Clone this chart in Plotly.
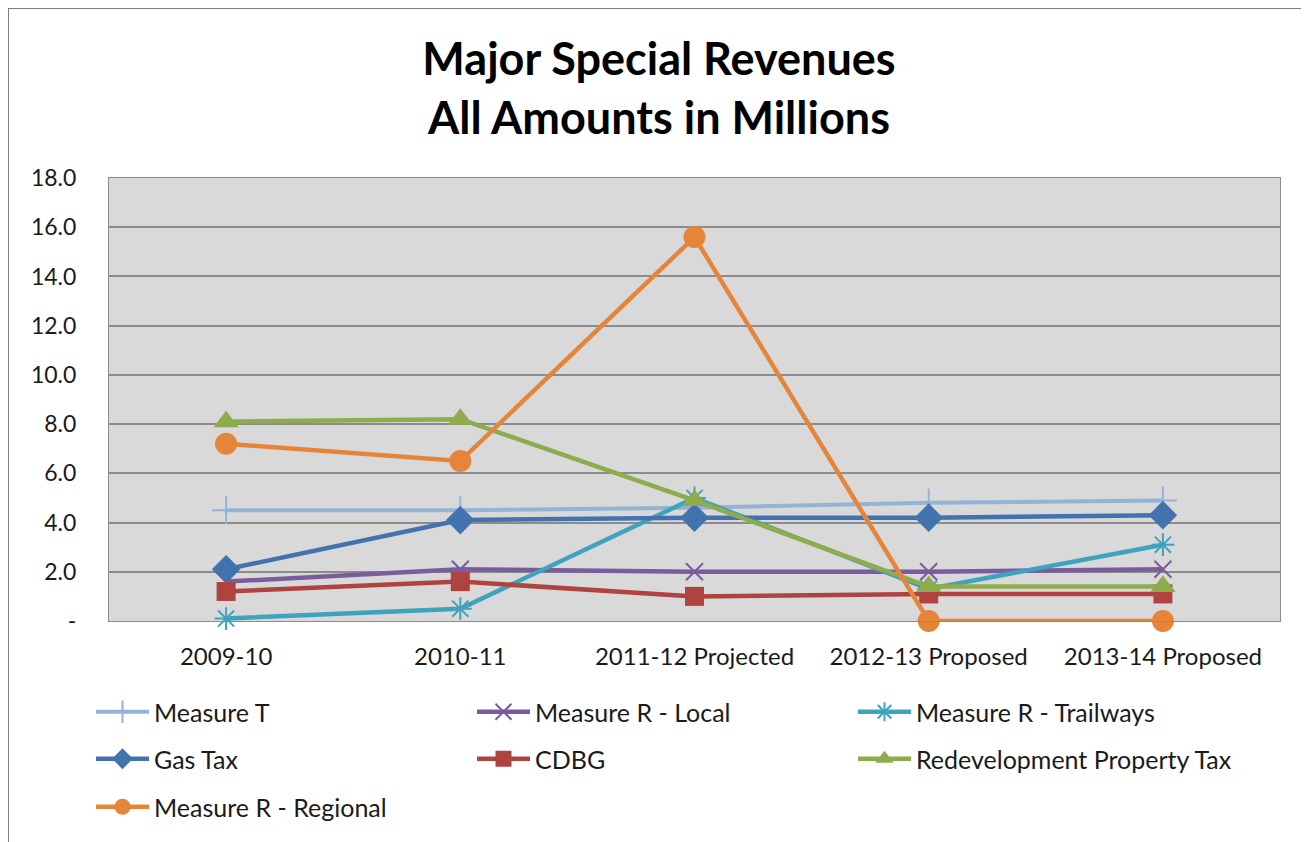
import plotly.graph_objects as go

categories = ["2009-10", "2010-11", "2011-12 Projected", "2012-13 Proposed", "2013-14 Proposed"]

measure_t = [4.5, 4.5, 4.6, 4.8, 4.9]
measure_r_local = [1.6, 2.1, 2.0, 2.0, 2.1]
measure_r_trailways = [0.1, 0.5, 5.0, 1.3, 3.1]
gas_tax = [2.1, 4.1, 4.2, 4.2, 4.3]
cdbg = [1.2, 1.6, 1.0, 1.1, 1.1]
redevelopment = [8.1, 8.2, 4.9, 1.4, 1.4]
measure_r_regional = [7.2, 6.5, 15.6, 0.0, 0.0]

y_tickvals = [0, 2, 4, 6, 8, 10, 12, 14, 16, 18]
y_ticktext = ["-", "2.0", "4.0", "6.0", "8.0", "10.0", "12.0", "14.0", "16.0", "18.0"]

W, H = 1309, 842
OFF = 8  # page body margin of the html output
# target screen positions of the plot area
SL, SR, ST, SB = 109, 1280, 178, 621
ML, MT = SL - OFF, ST - OFF
MR, MB = W - (SR - OFF), H - (SB - OFF)
PW, PH = W - ML - MR, H - MT - MB


def px_x(px):
    return (px - SL) / PW


def px_y(py):
    return (SB - py) / PH


FONT = "Lato"

series = [
    dict(name="Measure T", y=measure_t, color="#95B3D7", symbol="cross-thin-open", size=20, lw=4, mlw=2, legend="legend"),
    dict(name="Measure R - Local", y=measure_r_local, color="#7A5C9C", symbol="x-thin-open", size=17, lw=4.5, mlw=2, legend="legend"),
    dict(name="Measure R - Trailways", y=measure_r_trailways, color="#3FA3BE", symbol="asterisk-open", size=19, lw=4.5, mlw=2, legend="legend"),
    dict(name="Gas Tax", y=gas_tax, color="#4373AE", symbol="diamond", size=22, lw=4.5, mlw=0, legend="legend2"),
    dict(name="CDBG", y=cdbg, color="#AE4340", symbol="square", size=19, lw=4.5, mlw=0, legend="legend2"),
    dict(name="Redevelopment Property Tax", y=redevelopment, color="#8EAC4C", symbol="triangle-up", size=22, lw=4.5, mlw=0, legend="legend2"),
    dict(name="Measure R - Regional", y=measure_r_regional, color="#E5853A", symbol="circle", size=22, lw=4.5, mlw=0, legend="legend3"),
]

fig = go.Figure()
for s in series:
    marker = dict(symbol=s["symbol"], size=s["size"], color=s["color"])
    if s["mlw"]:
        marker["line"] = dict(color=s["color"], width=s["mlw"])
    else:
        marker["line"] = dict(width=0)
    fig.add_trace(go.Scatter(
        x=categories, y=s["y"], name=s["name"], mode="lines+markers",
        line=dict(color=s["color"], width=s["lw"]),
        marker=marker, cliponaxis=False, legend=s["legend"],
    ))

legend_common = dict(
    orientation="h", xanchor="left", yanchor="middle",
    font=dict(family=FONT, size=25, color="#1a1a1a"),
    itemwidth=53, entrywidth=313, entrywidthmode="pixels",
    bgcolor="rgba(0,0,0,0)", borderwidth=0, itemclick=False,
)

fig.update_layout(
    width=W, height=H,
    margin=dict(l=ML, r=MR, t=MT, b=MB, autoexpand=False),
    paper_bgcolor="white",
    plot_bgcolor="#D9D9D9",
    font=dict(family=FONT, size=24, color="#1a1a1a"),
    title=dict(
        text="<b>Major Special Revenues<br>All Amounts in Millions</b>",
        x=(659 - OFF) / W, xref="container", xanchor="center",
        y=1 - 67 / H, yref="container", yanchor="middle",
        font=dict(family=FONT, size=45, color="#000000"),
    ),
    xaxis=dict(
        type="category", range=[-0.5, 4.5], showgrid=False, ticks="", showline=True,
        linecolor="#8C8C8C", linewidth=1, mirror=True,
        tickfont=dict(family=FONT, size=24, color="#1a1a1a"),
        ticklabelstandoff=14, zeroline=False,
    ),
    yaxis=dict(
        range=[0, 18], tickvals=y_tickvals, ticktext=y_ticktext,
        showgrid=True, gridcolor="#8C8C8C", gridwidth=1.5,
        showline=True, linecolor="#8C8C8C", linewidth=1, mirror=True,
        zeroline=False, ticks="",
        tickfont=dict(family=FONT, size=23, color="#1a1a1a"),
        ticklabelstandoff=27,
    ),
    legend=dict(x=px_x(91), y=px_y(712), **legend_common),
    legend2=dict(x=px_x(91), y=px_y(759), **legend_common),
    legend3=dict(x=px_x(91), y=px_y(807), **legend_common),
    showlegend=True,
)

# outer chart border (top and left edges visible in the reference)
fig.add_shape(type="line", xref="paper", yref="paper",
              x0=px_x(7), x1=px_x(W + 20), y0=px_y(7.5), y1=px_y(7.5),
              line=dict(color="#7F7F7F", width=3))
fig.add_shape(type="line", xref="paper", yref="paper",
              x0=px_x(7.5), x1=px_x(7.5), y0=px_y(7), y1=px_y(H + 20),
              line=dict(color="#7F7F7F", width=3))

fig.write_html("out.html")
